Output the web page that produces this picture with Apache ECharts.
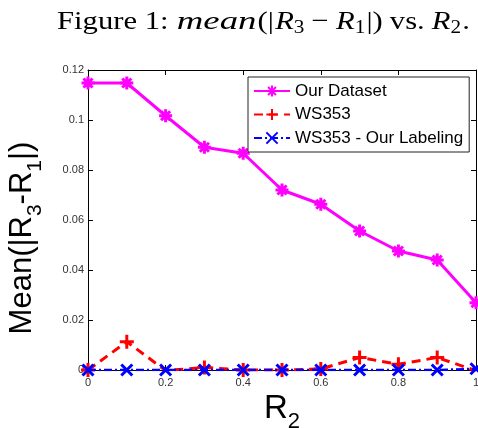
<!DOCTYPE html>
<html><head><meta charset="utf-8">
<script src="https://cdn.jsdelivr.net/npm/echarts@6/dist/echarts.min.js"></script>
<style>html,body{margin:0;padding:0;background:#fff}#c{width:478px;height:428px}</style>
</head><body><div id="c"></div>
<script>
const xValues = [0, 0.1, 0.2, 0.3, 0.4, 0.5, 0.6, 0.7, 0.8, 0.9, 1.0];
const ourDataset = [0.1148, 0.1148, 0.1017, 0.0891, 0.0867, 0.0720, 0.0663, 0.0556, 0.0476, 0.0440, 0.0269];
const ws353 = [0.0000, 0.0113, -0.0002, 0.0010, 0.0000, 0.0000, 0.0004, 0.0050, 0.0023, 0.0050, -0.0003];
const ws353Labeling = [0.0000, 0.0000, 0.0000, 0.0000, 0.0000, 0.0000, 0.0000, 0.0000, 0.0000, 0.0000, 0.0005];
const seriesNames = ['Our Dataset', 'WS353', 'WS353 - Our Labeling'];
const titlePieces = ['Figure 1:', 'mean', '(|', 'R', '3', '−', 'R', '1', '|)', 'vs.', 'R', '2', '.'];

const pts = a => xValues.map((x, i) => [x, a[i]]);
const asterisk = 'path://M0,-10L0,10M-10,0L10,0M-7,-7L7,7M-7,7L7,-7';
const plus = 'path://M0,-10L0,10M-10,0L10,0';
const cross = 'path://M-8,-8L8,8M-8,8L8,-8';

const sans = 'Liberation Sans, Arial, sans-serif';
const serif = 'Liberation Serif, Times New Roman, serif';

// title layout: kind per piece and gap (px) before each piece
const titleKinds = ['n', 'i', 'n', 'i', 's', 'n', 'i', 's', 'n', 'n', 'i', 's', 'n'];
const titleGaps  = [0, 7, 1, 1, 0, 6, 6, 0, 1, 6, 6, 0, 1];
const TFS = 26, TSS = 18;
const fontOf = k => (k === 'i' ? 'italic ' : 'normal ') + (k === 's' ? TSS : TFS) + 'px ' + serif;
const mctx = document.createElement('canvas').getContext('2d');
let cx = 0;
const titleChildren = titlePieces.map((t, k) => {
  const kind = titleKinds[k];
  mctx.font = fontOf(kind);
  const sx = t === 'mean' ? 1.2 : 1;
  cx += titleGaps[k];
  const el = {
    type: 'text', x: cx, y: kind === 's' ? 6 : 0, scaleX: sx,
    style: {text: t, verticalAlign: 'middle', align: 'left', fill: '#000', font: fontOf(kind)}
  };
  cx += mctx.measureText(t).width * sx;
  return el;
});
const titleScale = 413 / cx;

const chart = echarts.init(document.getElementById('c'));
chart.setOption({
  animation: false,
  graphic: [{type: 'group', x: 57, y: 22, scaleX: titleScale, z: 10, children: titleChildren}],
  grid: {left: 88, right: 2, top: 70, bottom: 58, containLabel: false, outerBoundsMode: 'none'},
  legend: {
    left: 248, top: 77, width: 223,
    orient: 'vertical',
    backgroundColor: '#fff',
    borderColor: '#222', borderWidth: 1,
    padding: [5, 6, 5, 5],
    itemGap: 5.5, itemWidth: 36, itemHeight: 14,
    textStyle: {fontFamily: sans, fontSize: 17, color: '#000', lineHeight: 18},
    data: seriesNames
  },
  xAxis: [{
    type: 'value', min: 0, max: 1, interval: 0.2,
    name: '{r|R}{s|2}', nameLocation: 'middle', nameGap: 0,
    nameTextStyle: {rich: {
      r: {fontFamily: sans, fontSize: 33, color: '#000'},
      s: {fontFamily: sans, fontSize: 22, color: '#000', padding: [26, 0, 0, 0]}
    }},
    axisLine: {show: true, onZero: false, lineStyle: {color: '#000', width: 1}},
    axisTick: {show: true, inside: true, length: 5, lineStyle: {color: '#000'}},
    axisLabel: {fontFamily: sans, fontSize: 11, color: '#333', margin: 7},
    splitLine: {show: false}
  }, {
    type: 'value', min: 0, max: 1, interval: 0.2, position: 'top',
    axisLine: {show: true, onZero: false, lineStyle: {color: '#000', width: 1}},
    axisTick: {show: true, inside: true, length: 5, lineStyle: {color: '#000'}},
    axisLabel: {show: false}, splitLine: {show: false}
  }],
  yAxis: [{
    type: 'value', min: 0, max: 0.12, interval: 0.02,
    name: '{r|Mean(|R}{s|3}{r|-R}{s|1}{r||)}', nameLocation: 'middle', nameGap: 42, nameRotate: 90,
    nameTextStyle: {
      padding: [0, 36, 0, 0],
      rich: {
        r: {fontFamily: sans, fontSize: 31, color: '#000'},
        s: {fontFamily: sans, fontSize: 21, color: '#000', padding: [26, 0, 0, 0]}
      }
    },
    axisLine: {show: true, onZero: false, lineStyle: {color: '#000', width: 1}},
    axisTick: {show: true, inside: true, length: 5, lineStyle: {color: '#000'}},
    axisLabel: {fontFamily: sans, fontSize: 11, color: '#333', margin: 4},
    splitLine: {show: false}
  }, {
    type: 'value', min: 0, max: 0.12, interval: 0.02, position: 'right',
    axisLine: {show: true, onZero: false, lineStyle: {color: '#000', width: 1}},
    axisTick: {show: true, inside: true, length: 5, lineStyle: {color: '#000'}},
    axisLabel: {show: false}, splitLine: {show: false}
  }],
  series: [{
    name: seriesNames[0], type: 'line', data: pts(ourDataset),
    symbol: asterisk, symbolSize: 13, showAllSymbol: true,
    lineStyle: {color: '#ff00ff', width: 3},
    itemStyle: {color: '#ff00ff', borderColor: '#ff00ff', borderWidth: 3},
    z: 3
  }, {
    name: seriesNames[1], type: 'line', data: pts(ws353),
    symbol: plus, symbolSize: 14, showAllSymbol: true,
    lineStyle: {color: '#ff0000', width: 3, type: [9, 6]},
    itemStyle: {color: '#ff0000', borderColor: '#ff0000', borderWidth: 3},
    z: 4
  }, {
    name: seriesNames[2], type: 'line', data: pts(ws353Labeling),
    symbol: cross, symbolSize: 11, showAllSymbol: true,
    lineStyle: {color: '#0000ff', width: 2.5, type: [8, 3, 2, 3]},
    itemStyle: {color: '#0000ff', borderColor: '#0000ff', borderWidth: 3},
    z: 5
  }]
});
</script></body></html>
